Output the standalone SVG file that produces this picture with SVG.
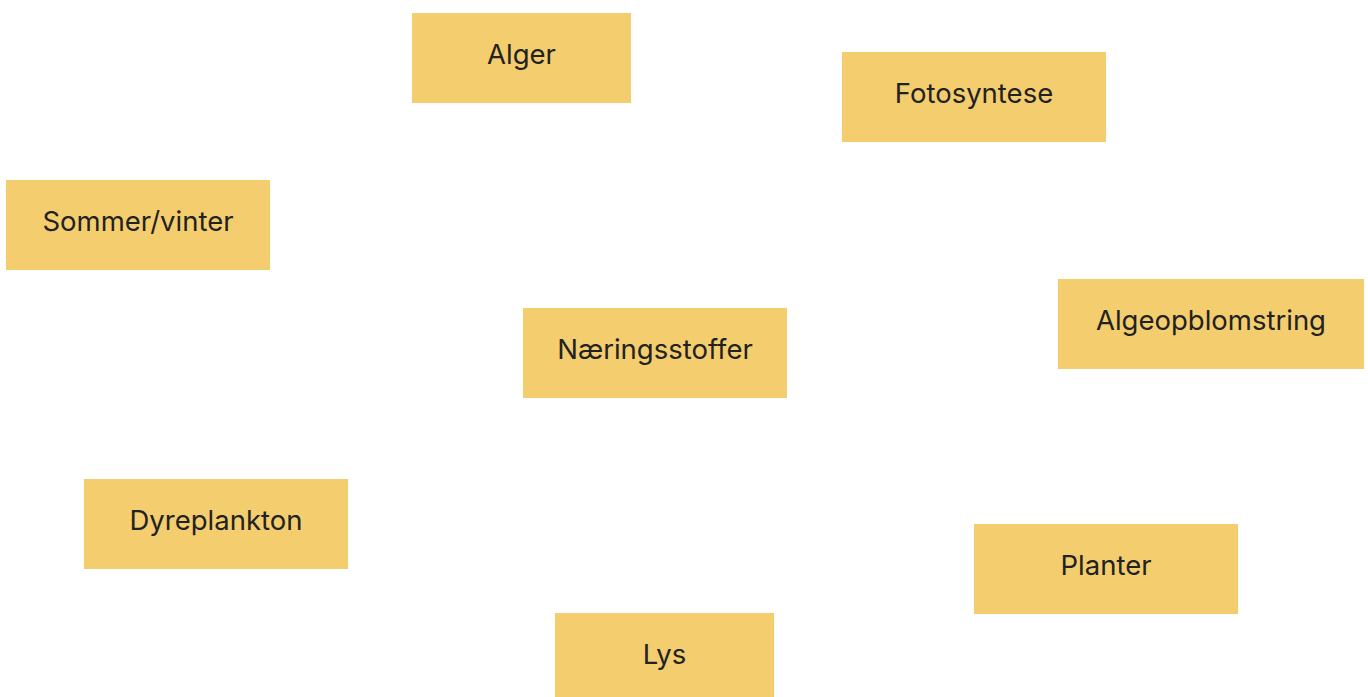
<svg xmlns="http://www.w3.org/2000/svg" width="1368" height="697" viewBox="0 0 1368 697">
<style>
.box{fill:#F4CE6E}
.lbl{font-family:Inter,Roboto,"Liberation Sans",sans-serif;font-size:27.5px;fill:#222222;text-anchor:middle}
</style>
<rect width="1368" height="697" fill="#ffffff"/>
<g id="connectors"></g>
<g id="alger"><rect class="box" x="412" y="13" width="219" height="90"/><text class="lbl" x="521.5" y="64">Alger</text></g>
<g id="fotosyntese"><rect class="box" x="842" y="52" width="264" height="90"/><text class="lbl" x="974" y="103">Fotosyntese</text></g>
<g id="sommer"><rect class="box" x="6" y="180" width="264" height="90"/><text class="lbl" x="138" y="231">Sommer/vinter</text></g>
<g id="algeopblomstring"><rect class="box" x="1058" y="279" width="306" height="90"/><text class="lbl" x="1211" y="330">Algeopblomstring</text></g>
<g id="naeringsstoffer"><rect class="box" x="523" y="308" width="264" height="90"/><text class="lbl" x="655" y="359">Næringsstoffer</text></g>
<g id="dyreplankton"><rect class="box" x="84" y="479" width="264" height="90"/><text class="lbl" x="216" y="530">Dyreplankton</text></g>
<g id="planter"><rect class="box" x="974" y="524" width="264" height="90"/><text class="lbl" x="1106" y="575">Planter</text></g>
<g id="lys"><rect class="box" x="555" y="613" width="219" height="90"/><text class="lbl" x="664.5" y="664">Lys</text></g>
</svg>
